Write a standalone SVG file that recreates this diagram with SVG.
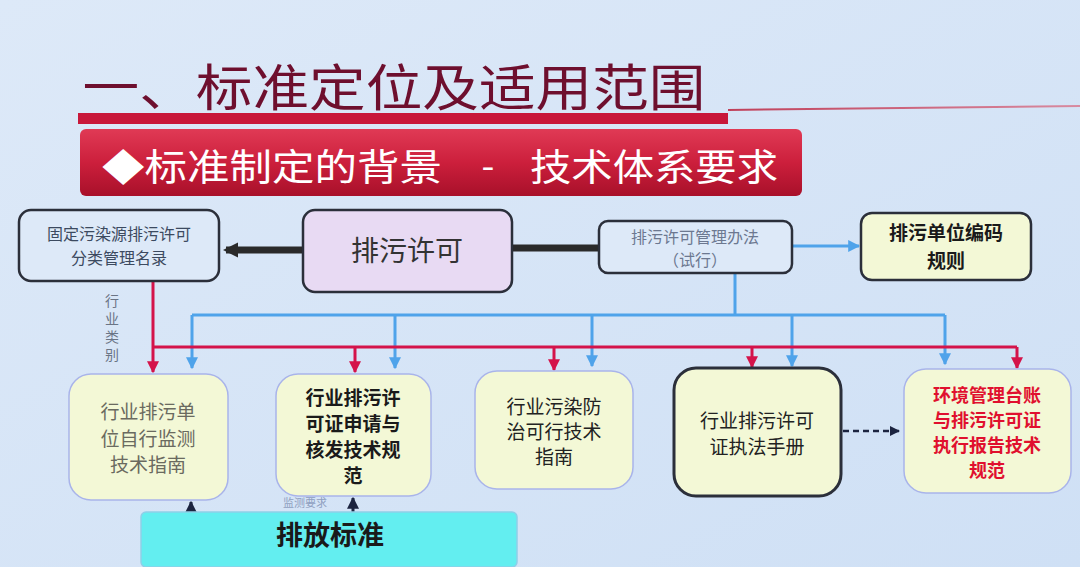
<svg xmlns="http://www.w3.org/2000/svg" width="1080" height="567" viewBox="0 0 1080 567">
<defs>
  <linearGradient id="bg" x1="0" y1="0" x2="1" y2="1">
    <stop offset="0" stop-color="#dde9f8"/>
    <stop offset="1" stop-color="#cfe0f5"/>
  </linearGradient>
  <linearGradient id="sub" x1="0" y1="0" x2="0" y2="1">
    <stop offset="0" stop-color="#e03a55"/>
    <stop offset="0.5" stop-color="#cc1f3c"/>
    <stop offset="1" stop-color="#a8102a"/>
  </linearGradient>
  <linearGradient id="thin" x1="0" y1="0" x2="1" y2="0">
    <stop offset="0" stop-color="#c0405a"/>
    <stop offset="1" stop-color="#d88aa0"/>
  </linearGradient>
  <marker id="ab" viewBox="0 0 10 10" refX="9" refY="5" markerWidth="4" markerHeight="4" orient="auto" markerUnits="strokeWidth">
    <path d="M0,0 L10,5 L0,10 z" fill="#4fa3ea"/>
  </marker>
  <marker id="ar" viewBox="0 0 10 10" refX="9" refY="5" markerWidth="4" markerHeight="4" orient="auto" markerUnits="strokeWidth">
    <path d="M0,0 L10,5 L0,10 z" fill="#d4134a"/>
  </marker>
  <marker id="ak" viewBox="0 0 10 10" refX="9" refY="5" markerWidth="4" markerHeight="4" orient="auto" markerUnits="strokeWidth">
    <path d="M0,0 L10,5 L0,10 z" fill="#1c2440"/>
  </marker>
  <marker id="athick" viewBox="0 0 10 10" refX="8" refY="5" markerWidth="2.2" markerHeight="2.2" orient="auto" markerUnits="strokeWidth">
    <path d="M0,0 L10,5 L0,10 z" fill="#2a2a2a"/>
  </marker>
</defs>
<style>
  text { font-family: "Noto Sans CJK SC", "Noto Sans", sans-serif; text-anchor: middle; }
  .box { stroke: #2b2f3a; stroke-width: 2.5; }
  .soft { stroke: #a9b4ea; stroke-width: 1.5; }
  .y { fill: #f3f8d6; }
  .blue { stroke: #4fa3ea; stroke-width: 3; fill: none; }
  .red { stroke: #d4134a; stroke-width: 3; fill: none; }
  .t16 { font-size: 16px; fill: #3c4a60; }
  .t19 { font-size: 19px; fill: #222; }
  .b20 { font-size: 20px; font-weight: bold; fill: #1a1a1a; }
  .b19 { font-size: 19px; font-weight: bold; fill: #1a1a1a; }
  .rd { font-size: 18px; font-weight: bold; fill: #e0102e; }
</style>
<rect width="1080" height="567" fill="url(#bg)"/>

<g id="title">
  <text x="394" y="106" font-size="50" fill="#6e0f2e" textLength="623" lengthAdjust="spacingAndGlyphs">一、标准定位及适用范围</text>
  <rect x="78" y="113" width="650" height="11" fill="#c8173a"/>
  <path d="M728,110 L1080,106" stroke="url(#thin)" stroke-width="2"/>
</g>

<g id="subtitle">
  <rect x="80" y="129" width="722" height="67" rx="6" fill="url(#sub)"/>
  <text x="272" y="181" font-size="37" fill="#ffffff" textLength="340" lengthAdjust="spacingAndGlyphs">◆标准制定的背景</text>
  <text x="488" y="179" font-size="37" fill="#ffffff">-</text>
  <text x="654" y="181" font-size="37" fill="#ffffff" textLength="248" lengthAdjust="spacingAndGlyphs">技术体系要求</text>
</g>

<g id="connectors">
  <line x1="303" y1="250" x2="226" y2="250" stroke="#2a2a2a" stroke-width="7" marker-end="url(#athick)"/>
  <line x1="512" y1="248" x2="600" y2="248" stroke="#2a2a2a" stroke-width="7"/>
  <line x1="792" y1="246" x2="859" y2="246" class="blue" marker-end="url(#ab)"/>
  <path d="M735,273 V315" class="blue"/>
  <path d="M192,315 H945" class="blue"/>
  <line x1="192" y1="315" x2="192" y2="368" class="blue" marker-end="url(#ab)"/>
  <line x1="395" y1="315" x2="395" y2="368" class="blue" marker-end="url(#ab)"/>
  <line x1="592" y1="315" x2="592" y2="366" class="blue" marker-end="url(#ab)"/>
  <line x1="792" y1="315" x2="792" y2="366" class="blue" marker-end="url(#ab)"/>
  <line x1="945" y1="315" x2="945" y2="364" class="blue" marker-end="url(#ab)"/>
  <line x1="153" y1="281" x2="153" y2="372" class="red" marker-end="url(#ar)"/>
  <path d="M153,347 H1017" class="red"/>
  <line x1="355" y1="347" x2="355" y2="372" class="red" marker-end="url(#ar)"/>
  <line x1="554" y1="347" x2="554" y2="370" class="red" marker-end="url(#ar)"/>
  <line x1="752" y1="347" x2="752" y2="367" class="red" marker-end="url(#ar)"/>
  <line x1="1017" y1="347" x2="1017" y2="368" class="red" marker-end="url(#ar)"/>
  <line x1="843" y1="431" x2="899" y2="431" stroke="#1c2440" stroke-width="2.5" stroke-dasharray="6,4" marker-end="url(#ak)"/>
  <line x1="191" y1="512" x2="191" y2="502" stroke="#1c2440" stroke-width="3" marker-end="url(#ak)"/>
  <line x1="353" y1="512" x2="353" y2="498" stroke="#1c2440" stroke-width="3" marker-end="url(#ak)"/>
  <text x="112" y="306" font-size="14" fill="#6a7485">行</text>
  <text x="112" y="324" font-size="14" fill="#6a7485">业</text>
  <text x="112" y="342" font-size="14" fill="#6a7485">类</text>
  <text x="112" y="360" font-size="14" fill="#6a7485">别</text>
  <text x="305" y="507" font-size="11" fill="#8f9fc0">监测要求</text>
</g>

<g id="node-mulu">
  <rect x="19" y="210" width="200" height="71" rx="12" fill="#dde9f8" class="box"/>
  <text x="119" y="240" class="t16">固定污染源排污许可</text>
  <text x="119" y="264" class="t16">分类管理名录</text>
</g>

<g id="node-paiwu">
  <rect x="303" y="210" width="209" height="82" rx="12" fill="#e8daf3" class="box"/>
  <text x="407" y="261" font-size="28" fill="#333">排污许可</text>
</g>

<g id="node-banfa">
  <rect x="599" y="221" width="193" height="52" rx="9" fill="#dde9f8" class="box"/>
  <text x="695" y="243" class="t16" style="fill:#6c7890">排污许可管理办法</text>
  <text x="695" y="266" class="t16" style="fill:#6c7890">（试行）</text>
</g>

<g id="node-bianma">
  <rect x="861" y="213" width="170" height="67" rx="11" class="box y"/>
  <text x="946" y="240" class="b19">排污单位编码</text>
  <text x="946" y="268" class="b19">规则</text>
</g>

<g id="node-jiance">
  <rect x="69" y="374" width="159" height="126" rx="22" class="soft y"/>
  <text x="148" y="419" font-size="19" fill="#6a6a60">行业排污单</text>
  <text x="148" y="446" font-size="19" fill="#6a6a60">位自行监测</text>
  <text x="148" y="472" font-size="19" fill="#6a6a60">技术指南</text>
</g>

<g id="node-shenqing">
  <rect x="276" y="374" width="155" height="122" rx="22" class="soft y"/>
  <text x="353" y="405" class="b19">行业排污许</text>
  <text x="353" y="431" class="b19">可证申请与</text>
  <text x="353" y="457" class="b19">核发技术规</text>
  <text x="353" y="483" class="b19">范</text>
</g>

<g id="node-fangzhi">
  <rect x="475" y="371" width="158" height="118" rx="22" class="soft y"/>
  <text x="554" y="414" class="t19">行业污染防</text>
  <text x="554" y="439" class="t19">治可行技术</text>
  <text x="554" y="464" class="t19">指南</text>
</g>

<g id="node-zhifa">
  <rect x="674" y="368" width="167" height="128" rx="22" class="box y" style="stroke-width:3"/>
  <text x="757" y="428" class="t19">行业排污许可</text>
  <text x="757" y="454" class="t19">证执法手册</text>
</g>

<g id="node-taizhang">
  <rect x="904" y="369" width="167" height="124" rx="22" class="soft y"/>
  <text x="987" y="402" class="rd">环境管理台账</text>
  <text x="987" y="427" class="rd">与排污许可证</text>
  <text x="987" y="452" class="rd">执行报告技术</text>
  <text x="987" y="477" class="rd">规范</text>
</g>

<g id="node-biaozhun">
  <rect x="141" y="512" width="376" height="55" rx="5" fill="#63eef0" stroke="#8fcfe8" stroke-width="1.5"/>
  <text x="330" y="545" font-size="27" font-weight="bold" fill="#1a1a1a">排放标准</text>
</g>
</svg>
